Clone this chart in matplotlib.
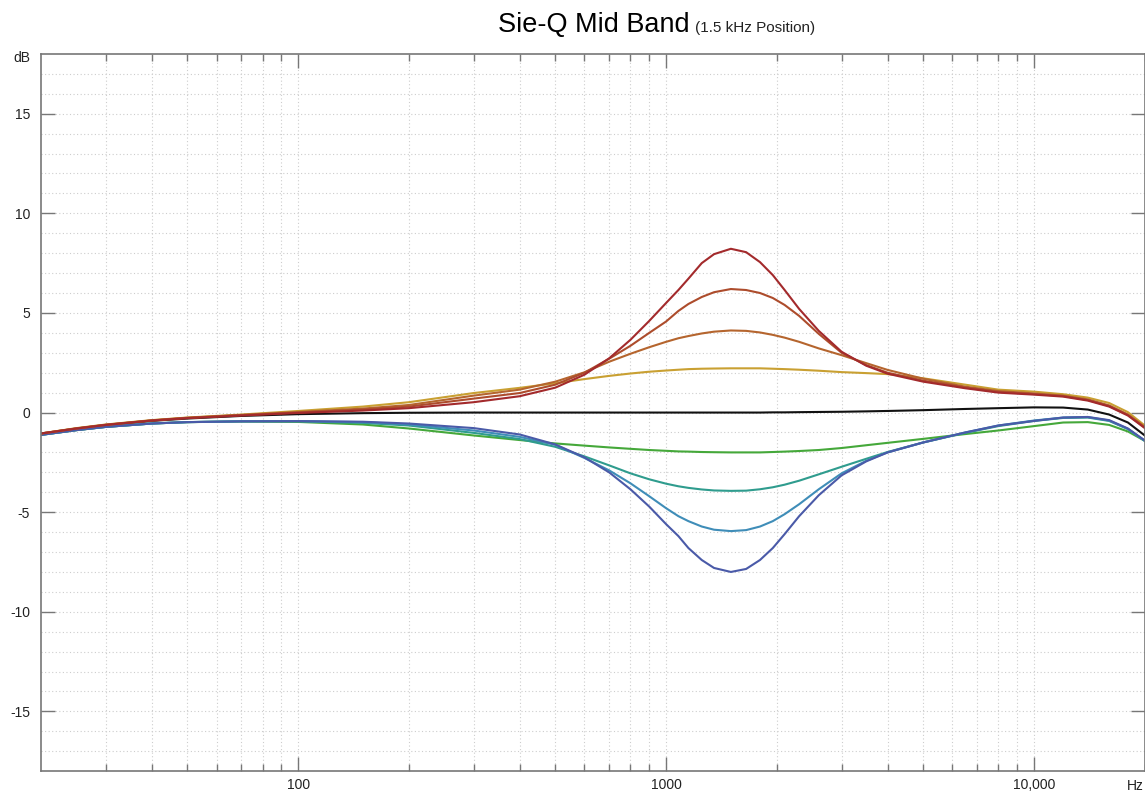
import matplotlib.pyplot as plt
from matplotlib.ticker import FixedLocator, NullFormatter

plt.rcParams['font.family'] = ['Liberation Sans', 'DejaVu Sans']

# frequency points (Hz)
freq = [20, 25, 30, 40, 50, 70, 100, 150, 200, 300, 400, 500, 600, 700, 800,
        900, 1000, 1080, 1150, 1250, 1350, 1500, 1650, 1800, 1950, 2100, 2300, 2600, 3000,
        3500, 4000, 5000, 6500, 8000, 10000, 12000, 14000, 16000, 18000, 20000]

# responses in dB, boost settings
red = [-1.05, -0.8, -0.62, -0.4, -0.28, -0.15, -0.02, 0.1, 0.22, 0.52, 0.82, 1.25, 1.9, 2.72, 3.65,
       4.6, 5.5, 6.15, 6.72, 7.5, 7.95, 8.22, 8.05, 7.55, 6.9, 6.15, 5.2, 4.1, 3.05,
       2.35, 1.95, 1.55, 1.22, 1.0, 0.9, 0.8, 0.6, 0.3, -0.15, -0.78]
brown = [-1.05, -0.8, -0.62, -0.4, -0.27, -0.13, 0.0, 0.15, 0.3, 0.7, 0.98, 1.4, 2.0, 2.7, 3.35,
         4.0, 4.57, 5.1, 5.45, 5.8, 6.04, 6.2, 6.15, 6.0, 5.75, 5.4, 4.85, 3.95, 3.0,
         2.38, 2.0, 1.6, 1.26, 1.04, 0.93, 0.83, 0.63, 0.33, -0.12, -0.75]
orange = [-1.05, -0.79, -0.61, -0.39, -0.26, -0.12, 0.03, 0.2, 0.38, 0.85, 1.15, 1.55, 2.02, 2.55, 2.95,
          3.28, 3.55, 3.73, 3.84, 3.97, 4.06, 4.12, 4.1, 4.02, 3.9, 3.76, 3.55, 3.22, 2.88,
          2.48, 2.14, 1.7, 1.3, 1.08, 0.96, 0.85, 0.66, 0.36, -0.1, -0.72]
gold = [-1.05, -0.78, -0.6, -0.38, -0.25, -0.1, 0.08, 0.3, 0.52, 0.98, 1.24, 1.47, 1.68, 1.84, 1.96,
        2.05, 2.11, 2.15, 2.18, 2.2, 2.21, 2.22, 2.22, 2.22, 2.2, 2.18, 2.15, 2.1, 2.03,
        1.98, 1.93, 1.72, 1.4, 1.15, 1.05, 0.92, 0.75, 0.48, 0.02, -0.65]
# flat
flat = [-1.1, -0.82, -0.64, -0.42, -0.3, -0.17, -0.08, -0.03, -0.01, 0.0, 0.0, 0.0, 0.0, 0.0, 0.0,
        0.0, 0.0, 0.0, 0.0, 0.0, 0.0, 0.0, 0.0, 0.0, 0.01, 0.01, 0.02, 0.03, 0.04,
        0.06, 0.08, 0.12, 0.18, 0.22, 0.26, 0.25, 0.15, -0.1, -0.5, -1.15]
# cut settings
green = [-1.12, -0.88, -0.72, -0.55, -0.48, -0.45, -0.47, -0.6, -0.8, -1.15, -1.38, -1.55, -1.66, -1.75, -1.82,
         -1.88, -1.92, -1.95, -1.96, -1.98, -1.99, -2.0, -2.0, -2.0, -1.98, -1.96, -1.93, -1.88, -1.78,
         -1.64, -1.52, -1.32, -1.08, -0.9, -0.68, -0.5, -0.48, -0.62, -0.95, -1.42]
teal = [-1.12, -0.88, -0.72, -0.55, -0.48, -0.44, -0.44, -0.52, -0.65, -1.02, -1.33, -1.72, -2.2, -2.65, -3.05,
        -3.35, -3.57, -3.7, -3.78, -3.86, -3.91, -3.93, -3.92, -3.85, -3.75, -3.62, -3.42, -3.1, -2.72,
        -2.32, -1.98, -1.5, -1.02, -0.68, -0.42, -0.27, -0.25, -0.42, -0.83, -1.42]
light = [-1.12, -0.88, -0.72, -0.55, -0.48, -0.44, -0.43, -0.48, -0.6, -0.9, -1.22, -1.62, -2.28, -2.9, -3.55,
         -4.2, -4.8, -5.2, -5.45, -5.72, -5.88, -5.95, -5.9, -5.72, -5.45, -5.1, -4.6, -3.85, -3.05,
         -2.42, -2.0, -1.5, -1.0, -0.65, -0.4, -0.25, -0.23, -0.4, -0.82, -1.42]
blue = [-1.12, -0.88, -0.72, -0.55, -0.48, -0.44, -0.43, -0.46, -0.55, -0.78, -1.1, -1.6, -2.25, -3.0, -3.85,
        -4.72, -5.6, -6.2, -6.8, -7.4, -7.8, -8.0, -7.85, -7.4, -6.8, -6.1, -5.2, -4.15, -3.15,
        -2.45, -2.0, -1.5, -1.0, -0.65, -0.42, -0.25, -0.22, -0.38, -0.8, -1.4]

xticks = [100, 1000, 10000]
xticklabels = ['100', '1000', '10,000']
yticks = [-15, -10, -5, 0, 5, 10, 15]

fig = plt.figure(figsize=(11.45, 7.93), dpi=100)
ax = fig.add_axes([0.0358, 0.0275, 0.964, 0.9045])

ax.plot(freq, flat, color='#111111', lw=1.5)
ax.plot(freq, green, color='#45a83a', lw=1.5)
ax.plot(freq, teal, color='#2f9c8e', lw=1.5)
ax.plot(freq, light, color='#3f8db8', lw=1.5)
ax.plot(freq, blue, color='#4a5aa8', lw=1.5)
ax.plot(freq, gold, color='#c9a032', lw=1.5)
ax.plot(freq, orange, color='#b5652e', lw=1.5)
ax.plot(freq, brown, color='#ad4c2c', lw=1.5)
ax.plot(freq, red, color='#a32a2c', lw=1.5)

ax.set_xscale('log')
ax.set_xlim(20, 20000)
ax.set_ylim(-18, 18)

minor = [m * d for d in (10, 100, 1000) for m in range(2, 10) if m * d > 20] + [20000]
ax.xaxis.set_major_locator(FixedLocator(xticks))
ax.xaxis.set_minor_locator(FixedLocator(minor))
ax.set_xticklabels(xticklabels)
ax.xaxis.set_minor_formatter(NullFormatter())
ax.set_yticks(yticks)
ax.set_yticklabels([str(v) for v in yticks])
ax.yaxis.set_minor_locator(FixedLocator(list(range(-17, 18))))

ax.grid(True, which='both', axis='both', color='#cdcdcd', lw=0.8, linestyle=(0, (1, 2.2)))
ax.set_axisbelow(True)

ax.tick_params(which='major', direction='in', length=10, width=1, color='#777777',
               top=True, right=True, labelsize=10, labelcolor='#222222')
ax.tick_params(axis='y', which='major', pad=8)
ax.tick_params(axis='x', which='major', pad=5)
ax.tick_params(axis='x', which='minor', direction='in', length=5, width=1, color='#777777',
               top=True)
ax.tick_params(axis='y', which='minor', length=0)
for s in ax.spines.values():
    s.set_color('#777777')
    s.set_linewidth(1.2)

fig.text(498 / 1145, 1 - 32 / 793, 'Sie-Q Mid Band', fontsize=19.5, ha='left', va='baseline')
fig.text(695 / 1145, 1 - 32 / 793, '(1.5 kHz Position)', fontsize=11, ha='left', va='baseline',
         color='#222222')
fig.text(30 / 1145, 1 - 58 / 793, 'dB', fontsize=10, ha='right', va='center', color='#222222')
fig.text(1144 / 1145, 1 - 786 / 793, 'Hz', fontsize=10, ha='right', va='center', color='#222222')

fig.savefig('out.png', dpi=100)
